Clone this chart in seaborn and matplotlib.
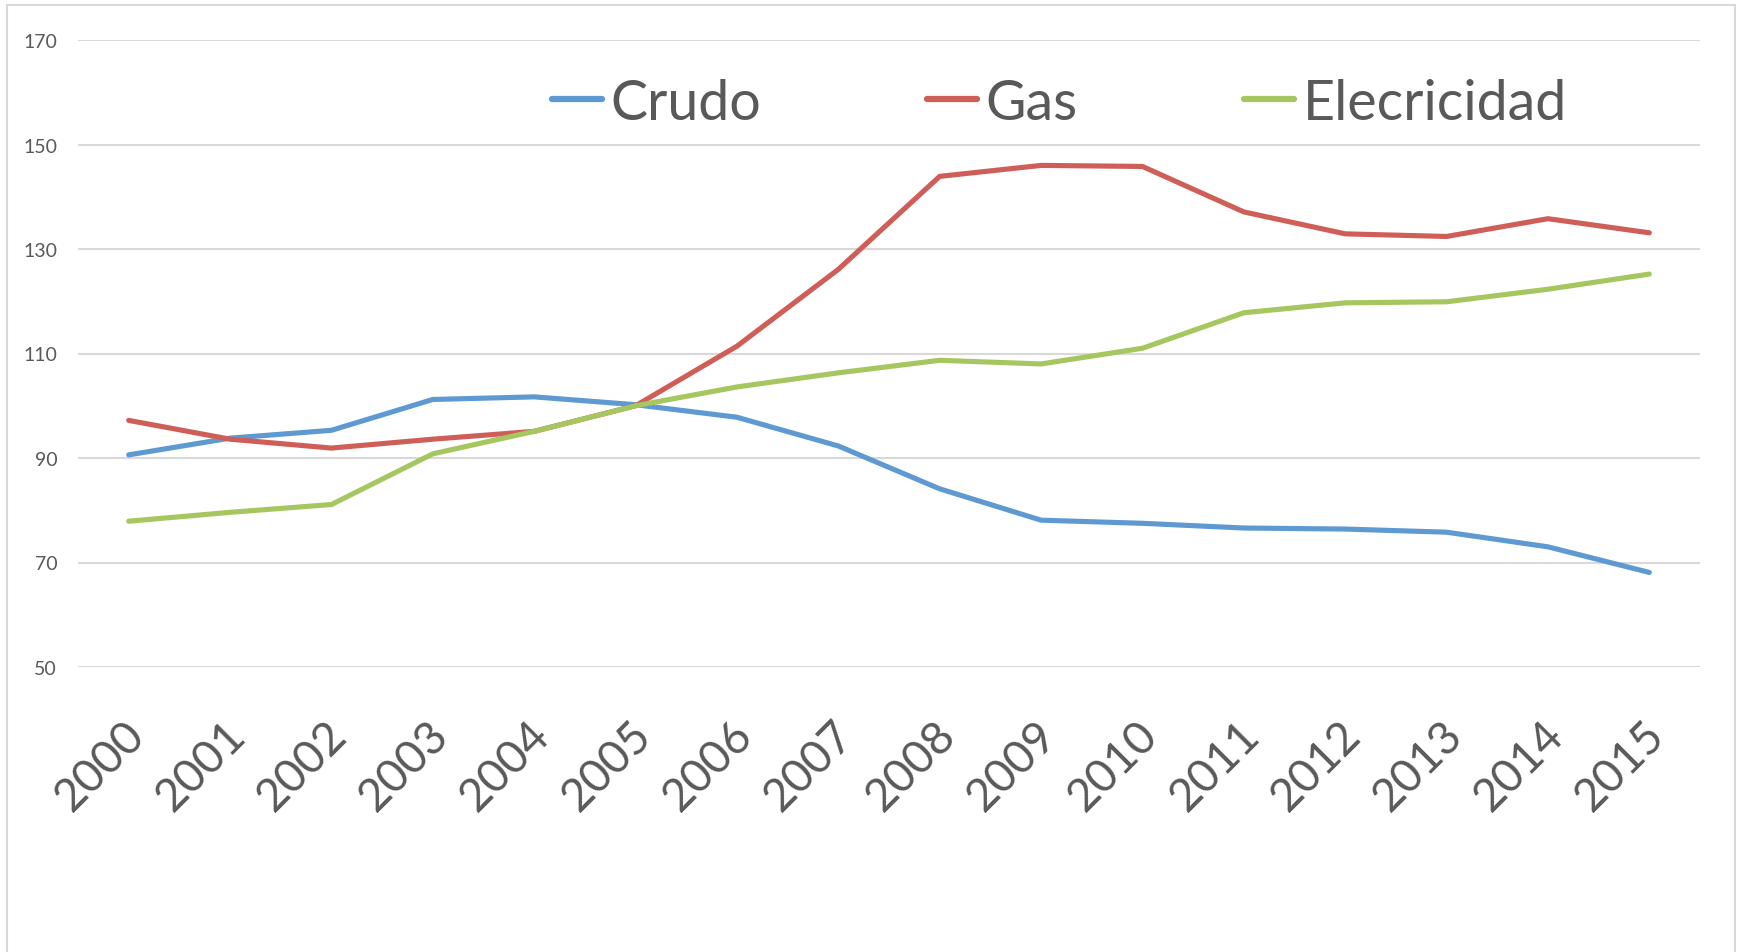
import numpy as np
import pandas as pd
import matplotlib
matplotlib.use("Agg")
import matplotlib.pyplot as plt
import matplotlib.transforms as mtransforms
from matplotlib.patches import Rectangle
import seaborn as sns

# Values (index, 2005 = 100)
years = [2000, 2001, 2002, 2003, 2004, 2005, 2006, 2007,
         2008, 2009, 2010, 2011, 2012, 2013, 2014, 2015]
crudo = [90.6, 93.8, 95.3, 101.2, 101.7, 100.2, 97.8, 92.3,
         84.1, 78.1, 77.5, 76.6, 76.4, 75.8, 73.0, 68.1]
gas = [97.2, 93.6, 91.9, 93.6, 95.1, 100.0, 111.4, 126.1,
       143.9, 146.0, 145.8, 137.1, 132.9, 132.4, 135.8, 133.1]
electricidad = [77.9, 79.6, 81.1, 90.8, 95.1, 100.0, 103.6, 106.3,
                108.7, 108.0, 111.0, 117.8, 119.7, 119.9, 122.3, 125.2]
series_names = ["Crudo", "Gas", "Elecricidad"]
colors = ["#5F99D1", "#CF5E58", "#A6C65F"]
y_ticks = [50, 70, 90, 110, 130, 150, 170]

df = pd.DataFrame({
    "year": years * 3,
    "valor": crudo + gas + electricidad,
    "serie": np.repeat(series_names, len(years)),
})

sns.set_style("white")
plt.rcParams["font.family"] = ["Lato", "DejaVu Sans"]

fig = plt.figure(figsize=(17.39, 9.53), dpi=100)
ax = fig.add_axes([78 / 1739, 1 - 668 / 953, (1700 - 78) / 1739, (668 - 41) / 953])

sns.lineplot(data=df, x="year", y="valor", hue="serie", hue_order=series_names,
             palette=colors, linewidth=3.7, ax=ax, legend=False)

ax.set_xlim(years[0] - 0.5, years[-1] + 0.5)
ax.set_ylim(50, 170)
ax.set_yticks(y_ticks)
ax.set_yticklabels([str(t) for t in y_ticks], fontsize=14, color="#595959")
ax.set_xticks(years)
ax.set_xticklabels([str(y) for y in years], fontsize=33, color="#595959",
                   rotation=45, ha="right", rotation_mode="anchor")
ax.tick_params(axis="y", length=0, pad=15)
ax.tick_params(axis="x", length=0, pad=33)
# nudge the rotated year labels a little to the left
shift = mtransforms.ScaledTranslation(-6 / 100, 0, fig.dpi_scale_trans)
for lbl in ax.get_xticklabels():
    lbl.set_transform(lbl.get_transform() + shift)
ax.set_xlabel("")
ax.set_ylabel("")
ax.grid(axis="y", color="#D9D9D9", linewidth=1.5)
ax.grid(axis="x", visible=False)
for s in ax.spines.values():
    s.set_visible(False)

handles = [plt.Line2D([0], [0], color=c, linewidth=4.5, solid_capstyle="round")
           for c in colors]
ax.legend(handles, series_names, ncol=3, loc="center",
          bbox_to_anchor=(0.605, 0.899), frameon=False, fontsize=40,
          handlelength=0.9, handletextpad=0.15, columnspacing=3.0,
          labelcolor="#595959")

fig.add_artist(Rectangle((7 / 1739, -0.01), (1735 - 7) / 1739, 1.0037,
                         transform=fig.transFigure, fill=False,
                         edgecolor="#D9D9D9", linewidth=1.5))

fig.savefig("out.png", dpi=100, facecolor="white")
